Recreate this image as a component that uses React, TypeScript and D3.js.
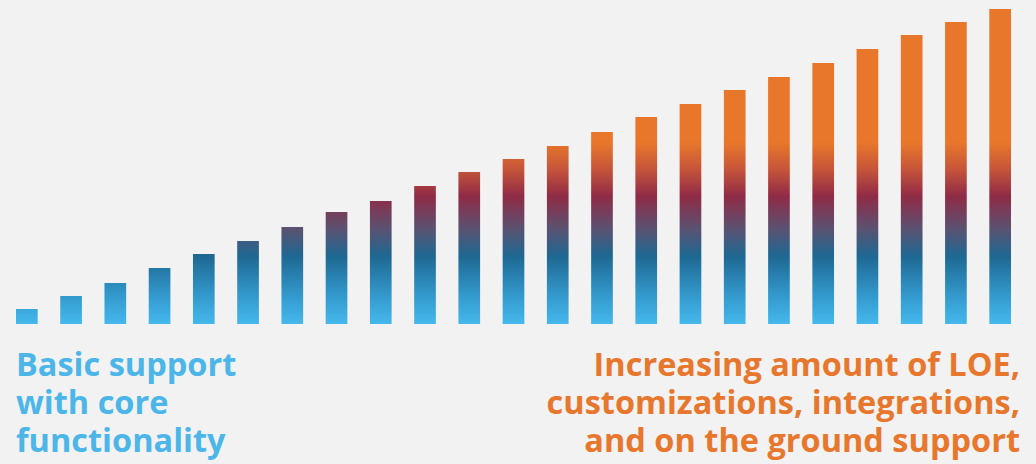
import React from "react";
import * as d3 from "d3";

const steps: string[] = d3.range(1, 24).map((i) => `Step ${i}`);
const effortValues: number[] = [
  15, 28, 41, 56, 70, 83, 97, 112, 123, 138, 152, 165, 178, 192, 207, 220, 234, 247, 261, 275, 289, 302, 315,
];
const leftLabel: string[] = ["Basic support", "with core", "functionality"];
const rightLabel: string[] = [
  "Increasing amount of LOE,",
  "customizations, integrations,",
  "and on the ground support",
];

const W = 1036;
const H = 464;
const BG = "#f2f2f2";
const BLUE_TEXT = "#4db6e8";
const ORANGE_TEXT = "#e8772e";

const gradientStops = [
  { offset: 0, color: "#45b8ec" },
  { offset: 0.09, color: "#3399cc" },
  { offset: 0.215, color: "#1e6892" },
  { offset: 0.3, color: "#5a5272" },
  { offset: 0.405, color: "#902b46" },
  { offset: 0.49, color: "#c6553a" },
  { offset: 0.575, color: "#e8772b" },
  { offset: 1, color: "#e8772b" },
];

export default function App() {
  const x = d3
    .scaleBand<string>()
    .domain(steps)
    .range([16, 1011])
    .paddingInner(0.51)
    .paddingOuter(0);
  const y = d3.scaleLinear().domain([0, 316]).range([324, 8]);

  const fontFamily = "'Open Sans', 'Noto Sans', sans-serif";

  return (
    <svg
      width={W}
      height={H}
      viewBox={`0 0 ${W} ${H}`}
      style={{ position: "absolute", left: 0, top: 0, display: "block" }}
    >
      <defs>
        <linearGradient
          id="barGrad"
          gradientUnits="userSpaceOnUse"
          x1={0}
          x2={0}
          y1={y(0)}
          y2={y(316)}
        >
          {gradientStops.map((s, i) => (
            <stop key={i} offset={s.offset} stopColor={s.color} />
          ))}
        </linearGradient>
      </defs>
      <rect x={0} y={0} width={W} height={H} fill={BG} />
      <g>
        {effortValues.map((v, i) => (
          <rect
            key={steps[i]}
            x={x(steps[i])}
            y={y(v)}
            width={x.bandwidth()}
            height={y(0) - y(v)}
            fill="url(#barGrad)"
          />
        ))}
      </g>
      <text
        fontFamily={fontFamily}
        fontWeight={700}
        fontSize={32.5}
        fill={BLUE_TEXT}
      >
        {leftLabel.map((t, i) => (
          <tspan key={i} x={16} y={376 + i * 38}>
            {t}
          </tspan>
        ))}
      </text>
      <text
        fontFamily={fontFamily}
        fontWeight={700}
        fontSize={32.5}
        fill={ORANGE_TEXT}
        textAnchor="end"
      >
        {rightLabel.map((t, i) => (
          <tspan key={i} x={1020} y={376 + i * 38}>
            {t}
          </tspan>
        ))}
      </text>
    </svg>
  );
}
